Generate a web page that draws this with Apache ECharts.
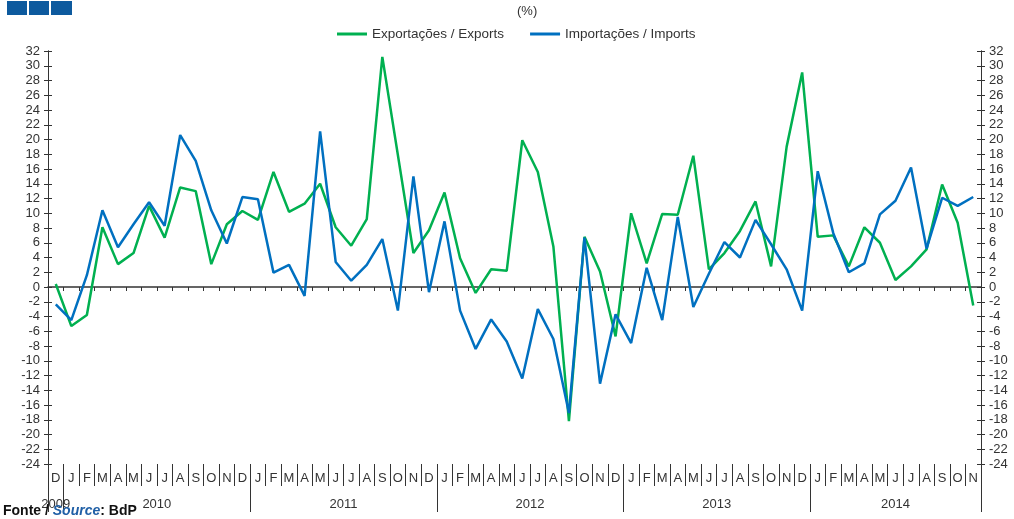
<!DOCTYPE html>
<html>
<head>
<meta charset="utf-8">
<script src="https://cdn.jsdelivr.net/npm/echarts@6/dist/echarts.min.js"></script>
<style>
html,body{margin:0;padding:0;background:#fff;}
#c{width:1014px;height:519px;}
</style>
</head>
<body>
<div id="c"></div>
<script>
// Months from Dec 2009 to Nov 2014
var months = ["D",
  "J","F","M","A","M","J","J","A","S","O","N","D",
  "J","F","M","A","M","J","J","A","S","O","N","D",
  "J","F","M","A","M","J","J","A","S","O","N","D",
  "J","F","M","A","M","J","J","A","S","O","N","D",
  "J","F","M","A","M","J","J","A","S","O","N"];

var exportsSeries = [0.4,
  -5.3, -3.8, 8.1, 3.1, 4.6, 11.0, 6.7, 13.5, 13.0, 3.1, 8.5, 10.3,
  9.1, 15.6, 10.2, 11.3, 14.0, 8.1, 5.6, 9.2, 31.2, 17.9, 4.6, 7.7,
  12.8, 3.9, -0.8, 2.4, 2.2, 19.9, 15.6, 5.5, -18.2, 6.8, 2.1, -6.7,
  10.0, 3.2, 9.9, 9.8, 17.8, 2.4, 4.6, 7.6, 11.6, 2.8, 19.0, 29.1,
  6.8, 7.0, 2.8, 8.1, 6.0, 0.95, 2.8, 5.1, 13.9, 8.7, -2.5];

var importsSeries = [-2.35,
  -4.5, 1.6, 10.4, 5.4, 8.5, 11.5, 8.3, 20.6, 17.1, 10.4, 5.9, 12.2,
  11.9, 1.95, 3.0, -1.2, 21.1, 3.4, 0.85, 3.0, 6.5, -3.2, 15.0, -0.7,
  8.9, -3.2, -8.4, -4.4, -7.4, -12.4, -3.0, -7.05, -17.1, 6.7, -13.1, -3.7,
  -7.6, 2.6, -4.5, 9.5, -2.7, 1.8, 6.1, 4.0, 9.1, 5.8, 2.4, -3.2,
  15.7, 7.3, 2.0, 3.2, 9.85, 11.7, 16.2, 5.2, 12.1, 11.0, 12.2];

var yearLabels = ["2009","2010","2011","2012","2013","2014"];
var yearCenters = [0.5, 7, 19, 31, 43, 54.5];
var yearBounds = [0, 1, 13, 25, 37, 49, 60];

var seriesNames = ["Exportações / Exports", "Importações / Imports"];

var axisColor = '#333333';
var textColor = '#333333';
var font = 'Liberation Sans, Arial, sans-serif';

var chart = echarts.init(document.getElementById('c'), null, {renderer: 'canvas'});

function yAx(pos, inside, showLabel) {
  return {
    type: 'value', position: pos, min: -24, max: 32, interval: 2,
    axisLine: {show: true, onZero: false, lineStyle: {color: axisColor, width: 1}},
    axisTick: {show: true, inside: inside, length: 4, lineStyle: {color: axisColor, width: 1}},
    axisLabel: {show: showLabel, margin: 8, color: textColor, fontSize: 13, fontFamily: font},
    splitLine: {show: false}
  };
}

chart.setOption({
  animation: false,
  backgroundColor: '#ffffff',
  grid: {left: 48, right: 33, top: 51, bottom: 55, containLabel: false},
  legend: {
    data: seriesNames, left: 332, top: 22, itemWidth: 30, itemHeight: 3, itemGap: 26,
    icon: 'rect',
    textStyle: {color: textColor, fontSize: 13.5, fontFamily: font}
  },
  graphic: [
    {type: 'rect', shape: {x: 7, y: 1, width: 20, height: 14}, style: {fill: '#0d5a9e'}},
    {type: 'rect', shape: {x: 29, y: 1, width: 20, height: 14}, style: {fill: '#0d5a9e'}},
    {type: 'rect', shape: {x: 51, y: 1, width: 21, height: 14}, style: {fill: '#0d5a9e'}},
    {type: 'text', left: 517, top: 5, style: {text: '(%)', fill: textColor, font: '13px ' + font}},
    {type: 'text', left: 3, top: 504, z: 100, style: {
      text: '{a|Fonte / }{b|Source}{a|: BdP}',
      rich: {
        a: {fontWeight: 'bold', fontSize: 14, fontFamily: font, fill: '#111111', color: '#111111'},
        b: {fontWeight: 'bold', fontStyle: 'italic', fontSize: 14, fontFamily: font, fill: '#1f5fa6', color: '#1f5fa6'}
      }
    }}
  ],
  xAxis: [
    {
      type: 'category', data: months, boundaryGap: true,
      axisLine: {show: true, onZero: true, onZeroAxisIndex: 0, lineStyle: {color: axisColor, width: 1.5}},
      axisTick: {show: true, interval: 0, length: 4, lineStyle: {color: axisColor}},
      axisLabel: {show: false}
    },
    {
      type: 'category', data: months, boundaryGap: true, position: 'bottom',
      axisLine: {show: false, onZero: false},
      axisTick: {show: true, interval: 0, length: 22, lineStyle: {color: axisColor}},
      axisLabel: {show: true, interval: 0, margin: 8, color: textColor, fontSize: 13, fontFamily: font}
    },
    {
      type: 'value', min: 0, max: 60, position: 'bottom',
      axisLine: {show: false, onZero: false},
      splitLine: {show: false},
      axisTick: {show: true, customValues: yearBounds, length: 48, lineStyle: {color: axisColor}},
      axisLabel: {show: true, customValues: yearCenters, margin: 34, color: textColor, fontSize: 13, fontFamily: font,
        formatter: function (v) { var i = yearCenters.indexOf(v); return i >= 0 ? yearLabels[i] : ''; }}
    }
  ],
  yAxis: [yAx('left', false, true), yAx('left', true, false), yAx('right', false, true), yAx('right', true, false)],
  series: [
    {name: seriesNames[0], type: 'line', data: exportsSeries, xAxisIndex: 0, yAxisIndex: 0,
      symbol: 'none', lineStyle: {color: '#00b050', width: 2.5}, itemStyle: {color: '#00b050'}, z: 3},
    {name: seriesNames[1], type: 'line', data: importsSeries, xAxisIndex: 0, yAxisIndex: 0,
      symbol: 'none', lineStyle: {color: '#0070c0', width: 2.5}, itemStyle: {color: '#0070c0'}, z: 4}
  ]
});
</script>
</body>
</html>
